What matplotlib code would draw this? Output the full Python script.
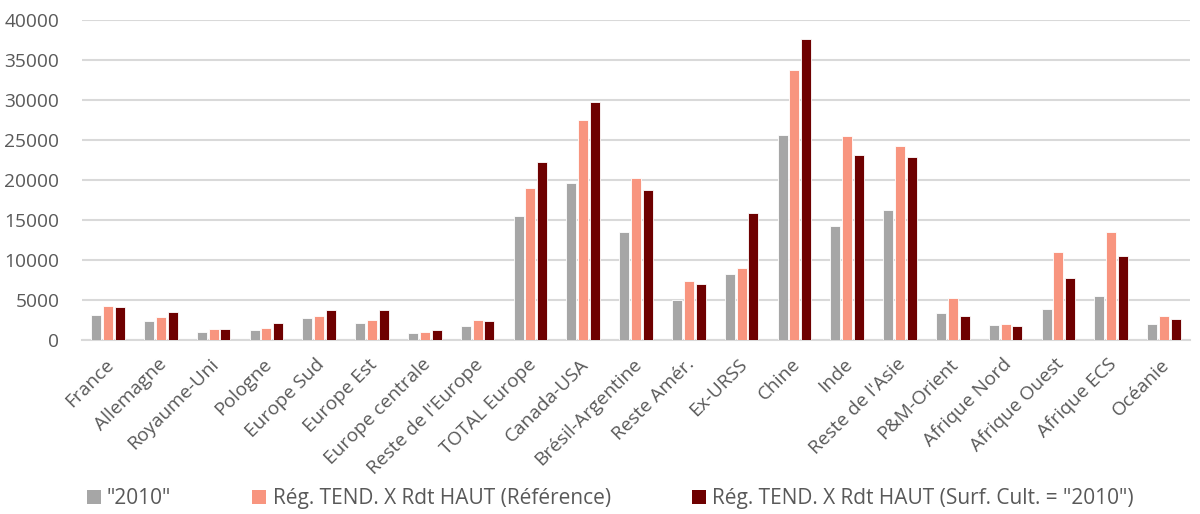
import numpy as np
import matplotlib.pyplot as plt
from matplotlib.patches import Patch

regions = ["France", "Allemagne", "Royaume-Uni", "Pologne", "Europe Sud", "Europe Est",
           "Europe centrale", "Reste de l'Europe", "TOTAL Europe", "Canada-USA",
           "Brésil-Argentine", "Reste Amér.", "Ex-URSS", "Chine", "Inde",
           "Reste de l'Asie", "P&M-Orient", "Afrique Nord", "Afrique Ouest",
           "Afrique ECS", "Océanie"]

val_2010 = [3150, 2350, 1060, 1270, 2730, 2100, 850, 1810, 15480, 19600,
            13560, 4980, 8270, 25650, 14270, 16270, 3400, 1900, 3900, 5440, 2020]
val_ref = [4230, 2900, 1350, 1560, 3020, 2480, 1060, 2440, 19020, 27480,
           20230, 7350, 9060, 33770, 25520, 24230, 5230, 2060, 10980, 13520, 2980]
val_surf = [4100, 3520, 1400, 2100, 3730, 3810, 1230, 2350, 22270, 29730,
            18730, 6940, 15940, 37650, 23150, 22900, 3060, 1690, 7770, 10520, 2650]

labels = ['"2010"', 'Rég. TEND. X Rdt HAUT (Référence)',
          'Rég. TEND. X Rdt HAUT (Surf. Cult. = "2010")']
colors = ["#A6A6A6", "#F8957F", "#6E0000"]

plt.rcParams['font.family'] = ['Open Sans', 'DejaVu Sans']
txt = "#595959"

fig = plt.figure(figsize=(12, 5.14), dpi=100)
ax = fig.add_axes([0.068, 0.3385, 0.924, 0.6225])

x = np.arange(len(regions))
w = 0.19
off = 0.225
for i, vals in enumerate([val_2010, val_ref, val_surf]):
    ax.bar(x + (i - 1) * off, vals, width=w, color=colors[i],
           edgecolor="white", linewidth=0.6, zorder=3)

ax.set_xlim(-0.5, len(regions) - 0.5)
ax.set_ylim(0, 40000)
ax.set_yticks(np.arange(0, 40001, 5000))
ax.yaxis.grid(True, color="#D9D9D9", linewidth=1.5, zorder=0)
ax.set_axisbelow(True)
for s in ["top", "right", "left"]:
    ax.spines[s].set_visible(False)
ax.spines["bottom"].set_color("#D9D9D9")
ax.spines["bottom"].set_linewidth(1.5)
ax.tick_params(axis="both", length=0, colors=txt, labelsize=13.8)
ax.tick_params(axis="y", pad=16)
ax.tick_params(axis="x", pad=11)
ax.set_xticks(x - 0.07)
ax.set_xticklabels(regions, rotation=45, ha="right", rotation_mode="anchor")

handles = [Patch(facecolor=c) for c in colors]
fig.legend(handles, labels, loc="center left", bbox_to_anchor=(0.0565, 0.03),
           ncol=3, frameon=False, fontsize=15, labelcolor=txt,
           handlelength=0.67, handleheight=0.65, handletextpad=0.3,
           columnspacing=3.9)

plt.savefig("out.png", dpi=100)
